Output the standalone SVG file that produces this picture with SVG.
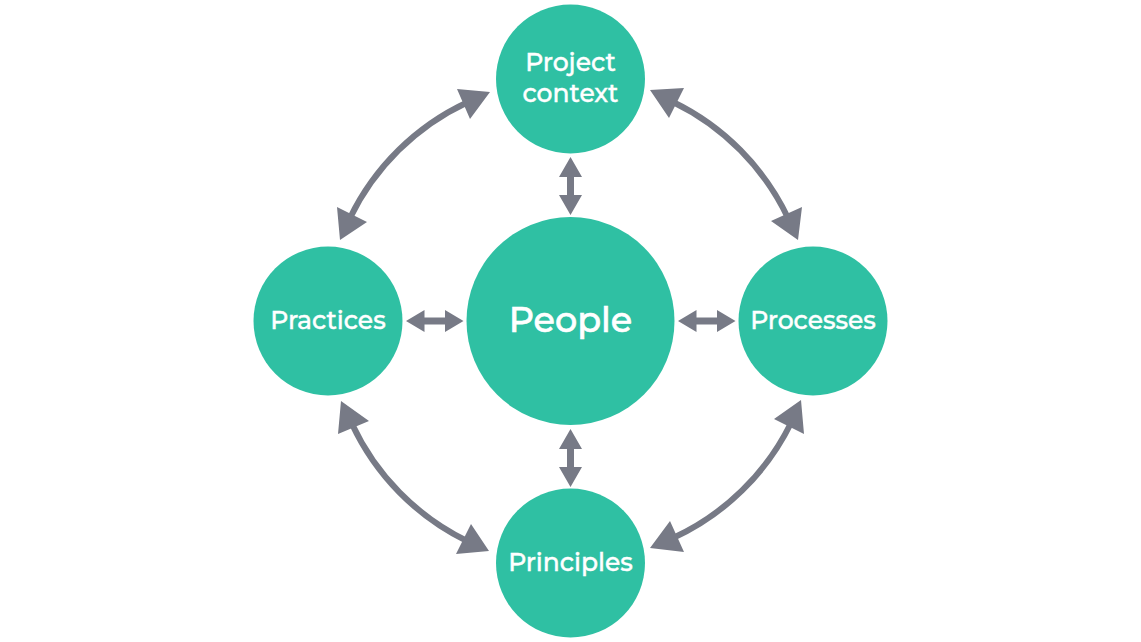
<svg xmlns="http://www.w3.org/2000/svg" width="1141" height="642" viewBox="0 0 1141 642">
<style>
.n{fill:#2fc0a3}
.t{font-family:"Montserrat","Inter","Noto Sans",sans-serif;font-weight:500;fill:#fff;stroke:#fff;stroke-width:.4;text-anchor:middle;font-size:25px}
.c{fill:none;stroke:#777a86;stroke-width:6}
.s{fill:none;stroke:#777a86;stroke-width:7}
.a{fill:#777a86}
</style>
<rect width="1141" height="642" fill="#fff"/>
<g id="connectors">
<path class="s" d="M570.500 172V200"/><path class="a" d="M570.500 157l11.500 20h-23zM570.500 215l11.500-20h-23z"/>
<path class="s" d="M570.500 444V472"/><path class="a" d="M570.500 429l11.500 20h-23zM570.500 487l11.500-20h-23z"/>
<path class="s" d="M420 321H450"/><path class="a" d="M406 321l18.500-11v22zM463.500 321l-18.500-11v22z"/>
<path class="s" d="M692 321H722"/><path class="a" d="M678 321l18.500-11v22zM735.500 321l-18.500-11v22z"/>
<path class="c" d="M467 102.500A246 246 0 0 0 350 218"/><path class="a" d="M490 92L457 89L470 119zM340 240L337 207L367 222z"/>
<path class="c" d="M673 102A246 246 0 0 1 788 218"/><path class="a" d="M650 90L684 88L669 118zM798 240L771 221L802 207z"/>
<path class="c" d="M352 424A246 246 0 0 0 467 541"/><path class="a" d="M341 401L338 434L369 421zM489 551L456 554L471 524z"/>
<path class="c" d="M791 423A246 246 0 0 1 673 538"/><path class="a" d="M801 400L774 419L804 434zM650 548L684 552L670 521z"/>
</g>
<g id="people"><circle class="n" cx="570.500" cy="321" r="104"/><text class="t" x="570.500" y="331.500" style="font-size:35px;stroke-width:.6">People</text></g>
<g id="project-context"><circle class="n" cx="570.500" cy="79" r="74.500"/><text class="t" x="570.500" y="71">Project</text><text class="t" x="570.500" y="101.500">context</text></g>
<g id="practices"><circle class="n" cx="328" cy="321" r="74.500"/><text class="t" x="328" y="328.500">Practices</text></g>
<g id="processes"><circle class="n" cx="813" cy="321" r="74.500"/><text class="t" x="813" y="328.500">Processes</text></g>
<g id="principles"><circle class="n" cx="570.500" cy="563" r="74.500"/><text class="t" x="570.500" y="570.500">Principles</text></g>
</svg>
